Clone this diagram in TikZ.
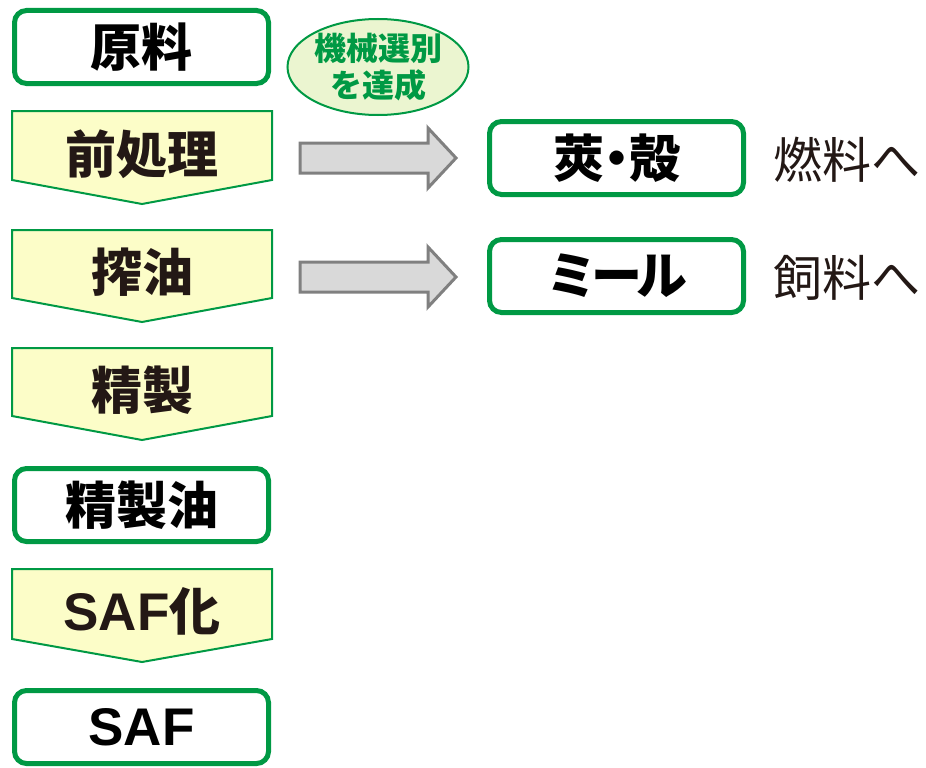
\documentclass[tikz,border=0pt]{standalone}
\usepackage{fontspec}
\setmainfont{Noto Sans CJK JP}
\newfontfamily\latin{Liberation Sans}
\usetikzlibrary{shapes.geometric}
\definecolor{grn}{RGB}{0,153,68}
\definecolor{ylw}{RGB}{252,253,200}
\definecolor{txt}{RGB}{35,24,21}
\definecolor{lgrn}{RGB}{235,245,208}
\definecolor{agray}{RGB}{217,217,217}
\definecolor{adark}{RGB}{128,128,128}
\tikzset{
  rbox/.style={draw=grn, line width=5pt, rounded corners=12pt, fill=white,
    minimum width=254pt, minimum height=73pt, inner sep=0pt,
    font=\fontsize{51}{55}\selectfont\bfseries, text=black},
  pentxt/.style={minimum width=259pt, minimum height=69pt, inner sep=0pt,
    font=\fontsize{51}{55}\selectfont\bfseries, text=txt},
  pent/.style={draw=grn, line width=2pt, fill=ylw, line join=miter},
  barrow/.style={draw=adark, line width=3pt, fill=agray, line join=miter},
  side/.style={anchor=west, inner sep=0pt, font=\fontsize{49}{53}\selectfont, text=txt}
}
\begin{document}
\begin{tikzpicture}[x=1pt,y=-1pt]
\useasboundingbox (0,0) rectangle (926,768);
% pentagons
\foreach \nm/\t/\b/\tp in {pre/111/180/204, ext/230/298/322, ref/348/416/440, saf/569/639/662}{
  \draw[pent] (12,\t) -- (272,\t) -- (272,\b) -- (142,\tp) -- (12,\b) -- cycle;
}
\node[pentxt] (pre) at (142,154) {前処理};
\node[pentxt] (ext) at (142,272) {搾油};
\node[pentxt] (ref) at (142,390) {精製};
\node[pentxt] (sfc) at (142,611) {{\latin\bfseries\fontsize{53}{56}\selectfont SAF}化};
% rounded boxes
\node[rbox] (raw) at (141.5,47) {原料};
\node[rbox] (oil) at (141.5,505) {精製油};
\node[rbox] (saf) at (141.5,727) {\fontsize{53}{56}\selectfont\latin\bfseries SAF};
\node[rbox] (husk) at (616.5,158) {莢\kern-13pt・\kern-13pt殻};
\node[rbox] (meal) at (616.5,276) {ミ\kern-6ptー\kern-6ptル};
% block arrows
\draw[barrow] (300,143) -- (428,143) -- (428,128) -- (456,158) -- (428,188) -- (428,173) -- (300,173) -- cycle;
\draw[barrow] (300,262) -- (428,262) -- (428,247) -- (456,277) -- (428,307) -- (428,292) -- (300,292) -- cycle;
% ellipse
\node[ellipse, draw=grn, line width=2pt, fill=lgrn, minimum width=176pt, minimum height=96pt,
  inner sep=0pt, align=center, text=grn, font=\fontsize{32}{37}\selectfont\bfseries] (mech) at (378,67) {機械選別\\を達成};
% side texts
\node[side] (fuel) at (773,160) {燃料へ};
\node[side] (feed) at (773,278) {飼料へ};
\end{tikzpicture}
\end{document}
